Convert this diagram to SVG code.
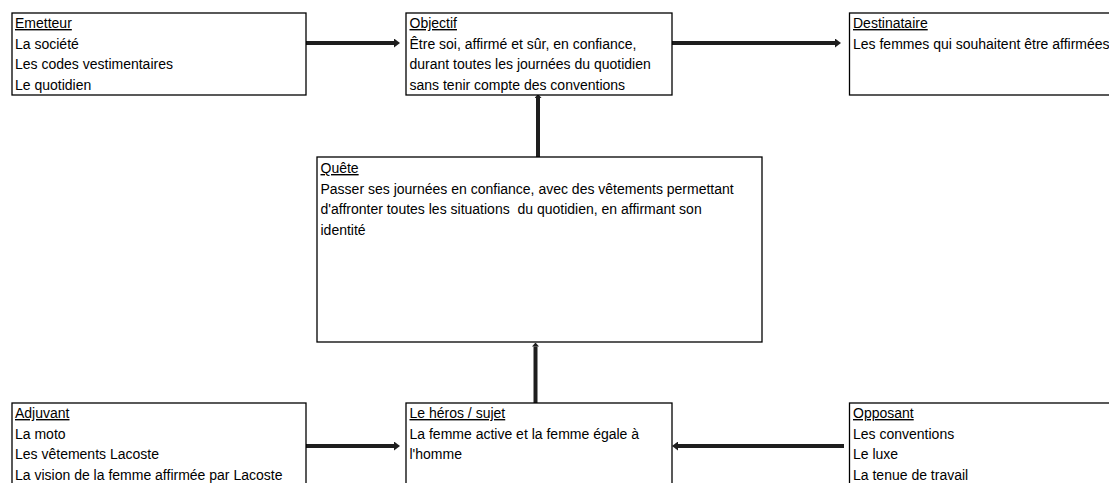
<svg xmlns="http://www.w3.org/2000/svg" width="1109" height="483" viewBox="0 0 1109 483">
<style>
.box{fill:#fff;stroke:#000;stroke-width:1.3}
.t{font-family:"Liberation Sans",Arial,sans-serif;font-size:14px;fill:#000;white-space:pre}
.h{text-decoration:underline}
.c{stroke:#1e1e1e;stroke-width:4;fill:none}
</style>
<defs>
<marker id="ah" viewBox="0 0 6 9" refX="0" refY="4.5" markerWidth="6" markerHeight="9" markerUnits="userSpaceOnUse" orient="auto">
<path d="M0,0 L6,4.5 L0,9 z" fill="#1e1e1e"/>
</marker>
<marker id="as" viewBox="0 0 4 7" refX="0" refY="3.5" markerWidth="4" markerHeight="7" markerUnits="userSpaceOnUse" orient="auto">
<path d="M0,0 L4,3.5 L0,7 z" fill="#1e1e1e"/>
</marker>
</defs>
<rect width="1109" height="483" fill="#fff"/>
<g id="connectors">
<line class="c" x1="306" y1="43" x2="394" y2="43" marker-end="url(#ah)"/>
<line class="c" x1="672" y1="43" x2="835" y2="43" marker-end="url(#ah)"/>
<line class="c" x1="538" y1="157" x2="538" y2="98" marker-end="url(#as)"/>
<line class="c" x1="535.5" y1="403" x2="535.5" y2="346.5" marker-end="url(#as)"/>
<line class="c" x1="306" y1="446" x2="394" y2="446" marker-end="url(#ah)"/>
<line class="c" x1="844" y1="446" x2="678" y2="446" marker-end="url(#ah)"/>
</g>
<g id="emetteur">
<rect class="box" x="12" y="13" width="294" height="82"/>
<text class="t h" x="15" y="28">Emetteur</text>
<text class="t" x="15" y="48.5">La société</text>
<text class="t" x="15" y="69">Les codes vestimentaires</text>
<text class="t" x="15" y="89.5">Le quotidien</text>
</g>
<g id="objectif">
<rect class="box" x="406" y="13" width="266" height="82"/>
<text class="t h" x="409.5" y="28">Objectif</text>
<text class="t" x="409.5" y="48.5">Être soi, affirmé et sûr, en confiance,</text>
<text class="t" x="409.5" y="69">durant toutes les journées du quotidien</text>
<text class="t" x="409.5" y="89.5">sans tenir compte des conventions</text>
</g>
<g id="destinataire">
<rect class="box" x="849.5" y="13" width="270" height="82"/>
<text class="t h" x="853" y="28">Destinataire</text>
<text class="t" x="853" y="48.5">Les femmes qui souhaitent être affirmées</text>
</g>
<g id="quete">
<rect class="box" x="317" y="157" width="445" height="185"/>
<text class="t h" x="320.5" y="173">Quête</text>
<text class="t" x="320.5" y="193.5">Passer ses journées en confiance, avec des vêtements permettant</text>
<text class="t" x="320.5" y="214">d'affronter toutes les situations  du quotidien, en affirmant son</text>
<text class="t" x="320.5" y="234.5">identité</text>
</g>
<g id="adjuvant">
<rect class="box" x="12" y="403" width="294" height="90"/>
<text class="t h" x="15" y="418">Adjuvant</text>
<text class="t" x="15" y="438.5">La moto</text>
<text class="t" x="15" y="459">Les vêtements Lacoste</text>
<text class="t" x="15" y="479.5">La vision de la femme affirmée par Lacoste</text>
</g>
<g id="heros">
<rect class="box" x="406" y="403" width="266" height="90"/>
<text class="t h" x="409.5" y="418">Le héros / sujet</text>
<text class="t" x="409.5" y="438.5">La femme active et la femme égale à</text>
<text class="t" x="409.5" y="459">l'homme</text>
</g>
<g id="opposant">
<rect class="box" x="849.5" y="403" width="270" height="90"/>
<text class="t h" x="853" y="418">Opposant</text>
<text class="t" x="853" y="438.5">Les conventions</text>
<text class="t" x="853" y="459">Le luxe</text>
<text class="t" x="853" y="479.5">La tenue de travail</text>
</g>
</svg>
